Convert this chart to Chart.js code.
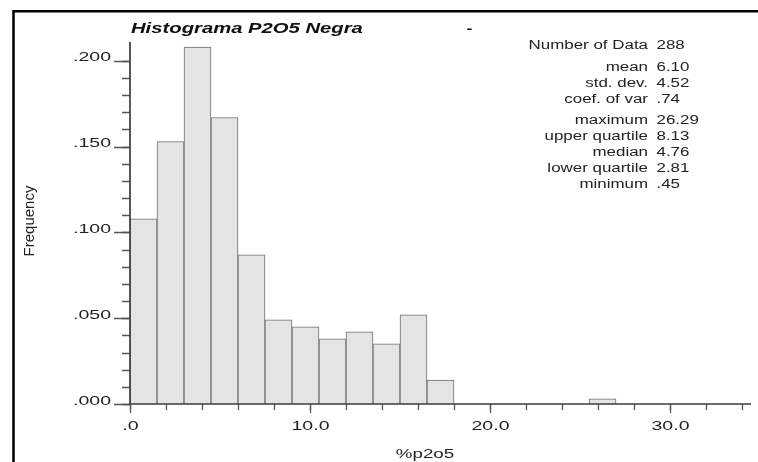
<!DOCTYPE html>
<html>
<head>
<meta charset="utf-8">
<script src="https://cdn.jsdelivr.net/npm/chart.js@4.4.0/dist/chart.umd.min.js"></script>
<style>
  html, body { margin: 0; padding: 0; background: #fff; }
  #wrap { width: 758px; height: 462px; }
</style>
</head>
<body>
<div id="wrap"><canvas id="hist" width="758" height="462"></canvas></div>
<script>
// --- data: class starts (%p2o5), class width and relative frequency ---
const binWidth = 1.5;
const binStarts = [0, 1.5, 3, 4.5, 6, 7.5, 9, 10.5, 12, 13.5, 15, 16.5, 18, 19.5, 21, 22.5, 24, 25.5];
const frequencies = [.108, .153, .208, .167, .087, .049, .045, .038, .042, .035, .052, .014, 0, 0, 0, 0, 0, .003];

// --- axis ticks ---
const xTickValues = [0, 10, 20, 30];
const xTickLabels = ['.0', '10.0', '20.0', '30.0'];
const xMinorStep = 2;
const yTickValues = [0, .05, .1, .15, .2];
const yTickLabels = ['.000', '.050', '.100', '.150', '.200'];
const yMinorStep = .01;

// --- summary statistics ---
const statNames = ['Number of Data', 'mean', 'std. dev.', 'coef. of var', 'maximum', 'upper quartile', 'median', 'lower quartile', 'minimum'];
const statValues = ['288', '6.10', '4.52', '.74', '26.29', '8.13', '4.76', '2.81', '.45'];

const FONT = '"Liberation Sans", Arial, sans-serif';

// wide text: draw with a horizontal stretch
function wideText(ctx, text, x, y, align, sx) {
    ctx.save();
    ctx.translate(x, y);
    ctx.scale(sx, 1);
    ctx.textAlign = align;
    ctx.textBaseline = 'alphabetic';
    ctx.fillText(text, 0, 0);
    ctx.restore();
}

// axes, ticks, titles and the stats block
const gslibDecor = {
    id: 'gslibDecor',
    afterDraw(chart) {
        const { ctx, chartArea, scales: { x, y } } = chart;
        const x0 = x.getPixelForValue(0);
        const y0 = y.getPixelForValue(0);

        ctx.save();

        // outer frame (left and top only)
        ctx.strokeStyle = '#000';
        ctx.lineWidth = 2.5;
        ctx.beginPath();
        ctx.moveTo(13.5, 462);
        ctx.lineTo(13.5, 11.3);
        ctx.lineTo(758, 11.3);
        ctx.stroke();

        // minor ticks
        ctx.strokeStyle = '#555';
        ctx.lineWidth = 1.3;
        ctx.beginPath();
        for (let v = 0; v <= 0.2001; v += yMinorStep) {
            const py = Math.round(y.getPixelForValue(v)) + 0.5;
            ctx.moveTo(x0 - 8, py);
            ctx.lineTo(x0, py);
        }
        for (let v = 0; v <= x.max; v += xMinorStep) {
            const px = Math.round(x.getPixelForValue(v)) + 0.5;
            ctx.moveTo(px, y0);
            ctx.lineTo(px, y0 + 6);
        }
        ctx.stroke();

        // major ticks
        ctx.beginPath();
        yTickValues.forEach(v => {
            const py = Math.round(y.getPixelForValue(v)) + 0.5;
            ctx.moveTo(x0 - 16, py);
            ctx.lineTo(x0, py);
        });
        xTickValues.forEach(v => {
            const px = Math.round(x.getPixelForValue(v)) + 0.5;
            ctx.moveTo(px, y0);
            ctx.lineTo(px, y0 + 9);
        });
        ctx.stroke();

        // axis lines
        ctx.strokeStyle = '#3c3c3c';
        ctx.lineWidth = 1.7;
        ctx.beginPath();
        ctx.moveTo(x0, chartArea.top);
        ctx.lineTo(x0, y0);
        ctx.lineTo(chartArea.right, y0);
        ctx.stroke();

        // tick labels
        ctx.fillStyle = '#222';
        ctx.font = '13px ' + FONT;
        yTickValues.forEach((v, i) => {
            wideText(ctx, yTickLabels[i], x0 - 19, y.getPixelForValue(v) + 0.5, 'right', 1.5);
        });
        xTickValues.forEach((v, i) => {
            wideText(ctx, xTickLabels[i], x.getPixelForValue(v) + 0.5, y0 + 26, 'center', 1.5);
        });

        // axis titles
        ctx.font = '12.5px ' + FONT;
        wideText(ctx, '%p2o5', 425, 457.5, 'center', 1.5);
        ctx.save();
        ctx.translate(33.5, 221);
        ctx.rotate(-Math.PI / 2);
        ctx.font = '15px ' + FONT;
        ctx.textAlign = 'center';
        ctx.fillText('Frequency', 0, 0);
        ctx.restore();

        // title
        ctx.fillStyle = '#111';
        ctx.font = 'italic bold 15px ' + FONT;
        wideText(ctx, 'Histograma P2O5 Negra', 131, 33, 'left', 1.35);
        ctx.font = 'bold 13px ' + FONT;
        wideText(ctx, '-', 466.5, 33, 'left', 1.35);

        // statistics
        ctx.fillStyle = '#222';
        ctx.font = '12px ' + FONT;
        const rowY = [48.5, 70.5, 86.5, 102.5, 123.5, 139.5, 155.5, 171.5, 187.5];
        statNames.forEach((name, i) => {
            wideText(ctx, name, 648, rowY[i], 'right', 1.41);
            wideText(ctx, statValues[i], 656.5, rowY[i], 'left', 1.41);
        });

        ctx.restore();
    }
};

new Chart(document.getElementById('hist'), {
    type: 'bar',
    data: {
        datasets: [{
            data: binStarts.map((s, i) => ({ x: s + binWidth / 2, y: frequencies[i] })),
            backgroundColor: '#e4e4e4',
            borderColor: '#6e6e6e',
            borderWidth: 1,
            barPercentage: 1,
            categoryPercentage: 1
        }]
    },
    options: {
        responsive: false,
        animation: false,
        layout: { padding: { left: 130, right: 7, top: 42, bottom: 58 } },
        plugins: { legend: { display: false }, tooltip: { enabled: false } },
        scales: {
            x: { type: 'linear', min: 0, max: 34.5, offset: false, display: false, ticks: { stepSize: binWidth } },
            y: { min: 0, max: 0.211, display: false }
        }
    },
    plugins: [gslibDecor]
});
</script>
</body>
</html>
